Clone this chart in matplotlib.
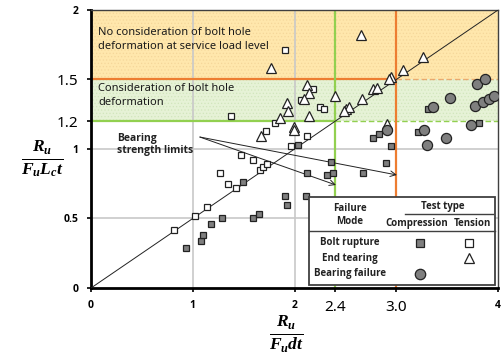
import matplotlib.pyplot as plt
from matplotlib.patches import Rectangle

plt.rcParams['font.family'] = ['Noto Sans', 'DejaVu Sans']
plt.rcParams['mathtext.fontset'] = 'custom'
plt.rcParams['mathtext.it'] = 'Liberation Serif:italic:bold'
plt.rcParams['mathtext.rm'] = 'Liberation Serif:bold'
plt.rcParams['mathtext.bf'] = 'Liberation Serif:bold'
plt.rcParams['hatch.linewidth'] = 0.5

BOLD = ['Open Sans', 'DejaVu Sans']

# bolt rupture, tension tests
ten_bolt_x = [0.82, 1.02, 1.14, 1.27, 1.35, 1.42, 1.47, 1.59, 1.66, 1.69, 1.73, 1.38,
              1.72, 1.81, 1.97, 2.12, 2.06, 2.18, 2.25, 2.29, 1.91]
ten_bolt_y = [0.42, 0.52, 0.585, 0.83, 0.75, 0.72, 0.96, 0.92, 0.85, 0.87, 0.89, 1.24,
              1.13, 1.19, 1.02, 1.09, 1.35, 1.43, 1.30, 1.29, 1.71]

# bolt rupture, compression tests
comp_bolt_x = [0.93, 1.08, 1.10, 1.18, 1.29, 1.49, 1.59, 1.65, 1.91, 1.93, 2.11, 2.12,
               2.32, 2.38, 2.36, 2.67, 2.90, 2.77, 2.83, 2.95, 2.03, 3.31, 3.21, 3.81]
comp_bolt_y = [0.29, 0.34, 0.38, 0.46, 0.50, 0.76, 0.50, 0.53, 0.66, 0.60, 0.66, 0.83,
               0.81, 0.83, 0.91, 0.83, 0.90, 1.08, 1.11, 1.02, 1.03, 1.29, 1.12, 1.19]

# end tearing, tension tests
ten_tear_x = [2.65, 1.77, 3.26, 3.07, 2.95, 2.93, 2.12, 2.14, 2.09, 1.93, 1.94, 1.86,
              2.14, 2.40, 2.66, 2.77, 2.81, 2.51, 2.54, 2.49, 2.91, 1.99, 1.99, 1.67]
ten_tear_y = [1.82, 1.58, 1.66, 1.57, 1.52, 1.50, 1.46, 1.40, 1.36, 1.33, 1.27, 1.22,
              1.24, 1.38, 1.36, 1.43, 1.44, 1.29, 1.30, 1.27, 1.18, 1.16, 1.14, 1.09]

# bearing failure, compression tests
comp_bear_x = [3.79, 3.87, 3.53, 3.36, 3.77, 3.85, 3.91, 3.96, 3.27, 3.73, 3.49, 3.30, 2.91]
comp_bear_y = [1.47, 1.50, 1.37, 1.30, 1.31, 1.34, 1.36, 1.38, 1.14, 1.17, 1.08, 1.03, 1.14]

# bearing strength limits (bolt hole deformation considered / not considered)
limit_low, limit_high = 1.2, 1.5
limit_x_low, limit_x_high = 2.4, 3.0
arrow_start = (1.07, 1.086)
arrow_ends = [(2.407, 0.741), (3.006, 0.813)]

ORANGE = '#ED7D31'
GREEN = '#92D050'

fig = plt.figure(figsize=(5.02, 3.57), dpi=100)
ax = fig.add_axes([0.1813, 0.1933, 0.8108, 0.7787])
ax.set_xlim(0, 4)
ax.set_ylim(0, 2)

# shaded design zones
ax.axhspan(limit_high, 2, facecolor='#FFE7AC', edgecolor='#F5D79A', hatch='.....', lw=0, zorder=0)
ax.axhspan(limit_low, limit_high, facecolor='#E6F2D6', edgecolor='#D2E6BC', hatch='.....', lw=0, zorder=0)

# gridlines
for gx in [1, 2]:
    ax.plot([gx, gx], [0, 2], color='#C8C8C8', lw=1.2, zorder=1)
for gy in [0.5, 1.0]:
    ax.plot([0, 4], [gy, gy], color='#C8C8C8', lw=1.2, zorder=1)

# limit lines
ax.plot([0, limit_x_high], [limit_high, limit_high], color=ORANGE, lw=1.6, zorder=2)
ax.plot([limit_x_high, 4], [limit_high, limit_high], color=ORANGE, lw=1.0, ls=(0, (4, 2)), alpha=0.6, zorder=2)
ax.plot([0, limit_x_low], [limit_low, limit_low], color=GREEN, lw=1.6, zorder=2)
ax.plot([limit_x_low, 4], [limit_low, limit_low], color=GREEN, lw=1.0, ls=(0, (4, 2)), zorder=2)
ax.plot([limit_x_low, limit_x_low], [0, 2], color=GREEN, lw=1.6, zorder=2)
ax.plot([limit_x_high, limit_x_high], [0, 2], color=ORANGE, lw=1.6, zorder=2)

# Ru/(Fu Lc t) = 0.5 Ru/(Fu d t) reference line
ax.plot([0, 4], [0, 2], color='#222222', lw=0.7, zorder=3)

for end in arrow_ends:
    ax.annotate('', xy=end, xytext=arrow_start,
                arrowprops=dict(arrowstyle='->', color='#222222', lw=0.7,
                                shrinkA=0, shrinkB=0), zorder=3)

mk = dict(ls='none', mec='#222222', mew=0.9, zorder=5)
ax.plot(comp_bolt_x, comp_bolt_y, marker='s', ms=5, mfc='#7F7F7F', **mk)
ax.plot(ten_bolt_x, ten_bolt_y, marker='s', ms=5, mfc='white', **mk)
ax.plot(ten_tear_x, ten_tear_y, marker='^', ms=7, mfc='white', **mk)
ax.plot(comp_bear_x, comp_bear_y, marker='o', ms=7.3, mfc='#7F7F7F', **mk)

# zone labels
ax.text(0.07, 1.79, 'No consideration of bolt hole\ndeformation at service load level',
        fontsize=8, va='center', linespacing=1.35, zorder=4, color='#1a1a1a')
ax.text(0.07, 1.385, 'Consideration of bolt hole\ndeformation',
        fontsize=8, va='center', linespacing=1.35, zorder=4, color='#1a1a1a')
ax.text(0.26, 1.035, 'Bearing\nstrength limits', fontsize=7.5, fontweight='bold',
        family=BOLD, va='center', linespacing=1.1, zorder=4, color='#222222')

# failure mode / test type table
ax.add_patch(Rectangle((2.14, 0.02), 1.83, 0.635, facecolor='white',
                       edgecolor='#404040', lw=1.3, zorder=6))
tk = dict(fontsize=7, fontweight='bold', family=BOLD, ha='center', va='center',
          zorder=7, color='#222222')
ax.text(2.544, 0.524, 'Failure\nMode', linespacing=1.3, **tk)
ax.text(3.455, 0.585, 'Test type', **tk)
ax.plot([3.09, 3.95], [0.530, 0.530], color='#404040', lw=1.0, zorder=7)
ax.text(3.20, 0.465, 'Compression', **tk)
ax.text(3.75, 0.465, 'Tension', **tk)
ax.plot([2.14, 3.97], [0.41, 0.41], color='#404040', lw=1.0, zorder=7)
ax.text(2.544, 0.326, 'Bolt rupture', **tk)
ax.text(2.544, 0.214, 'End tearing', **tk)
ax.text(2.544, 0.101, 'Bearing failure', **tk)
lk = dict(ls='none', mec='#222222', mew=0.9, zorder=7)
ax.plot([3.23], [0.326], marker='s', ms=6, mfc='#7F7F7F', **lk)
ax.plot([3.71], [0.326], marker='s', ms=6, mfc='white', **lk)
ax.plot([3.71], [0.214], marker='^', ms=7.5, mfc='white', **lk)
ax.plot([3.23], [0.101], marker='o', ms=7.5, mfc='#7F7F7F', **lk)

# axes and ticks
ax.set_xticks([0, 1, 2, limit_x_low, limit_x_high, 4])
ax.set_xticklabels(['0', '1', '2', '2.4', '3.0', '4'])
ax.set_yticks([0, 0.5, 1, limit_low, limit_high, 2])
ax.set_yticklabels(['0', '0.5', '1', '1.2', '1.5', '2'])
ax.tick_params(direction='out', length=3, width=1.2, pad=6)
for lbl in ax.get_xticklabels() + ax.get_yticklabels():
    if lbl.get_text() in ('2.4', '3.0', '1.2', '1.5'):
        lbl.set_fontsize(11)
    else:
        lbl.set_fontsize(7.5)
        lbl.set_fontweight('bold')
        lbl.set_family(BOLD)

for side in ['left', 'bottom']:
    ax.spines[side].set_linewidth(2)
    ax.spines[side].set_color('black')
for side in ['top', 'right']:
    ax.spines[side].set_linewidth(1)
    ax.spines[side].set_color('#404040')

fig.text(42 / 502, 1 - 159 / 357, r'$\frac{R_u}{F_u L_c t}$', fontsize=18, ha='center', va='center')
fig.text(286 / 502, 1 - 334 / 357, r'$\frac{R_u}{F_u d t}$', fontsize=18, ha='center', va='center')

fig.savefig('out.png', dpi=100)
